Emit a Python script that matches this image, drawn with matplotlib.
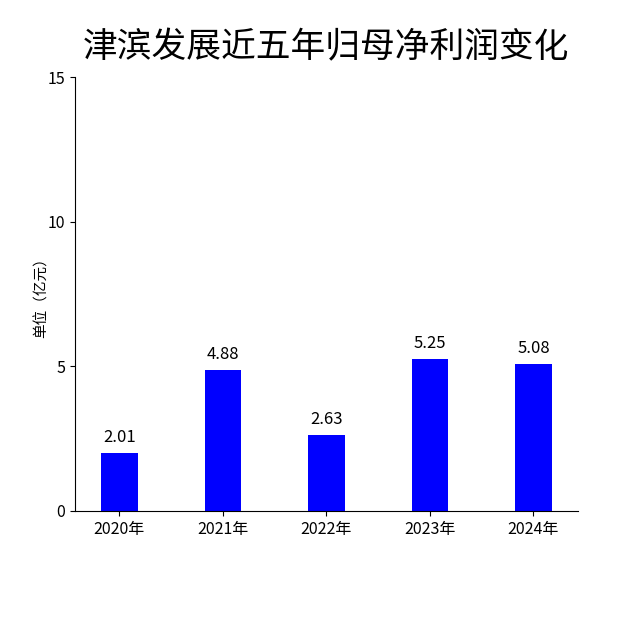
import matplotlib
matplotlib.use('Agg')
import matplotlib.pyplot as plt

plt.rcParams['font.family'] = ['Noto Sans CJK SC', 'DejaVu Sans']

# data
years = ['2020年', '2021年', '2022年', '2023年', '2024年']
profit = [2.01, 4.88, 2.63, 5.25, 5.08]

fig = plt.figure(figsize=(6.4, 6.4), dpi=100)
ax = fig.add_axes([0.117, 0.2016, 0.786, 0.678])

x = range(len(years))
bars = ax.bar(x, profit, width=0.35, color='#0000ff')
for b, v in zip(bars, profit):
    ax.text(b.get_x() + b.get_width() / 2, v + 0.25, f'{v:.2f}',
            ha='center', va='bottom', fontsize=12)

ax.set_xticks(list(x))
ax.set_xticklabels(years, fontsize=11.5)
ax.set_xlim(-0.43, 4.43)
ax.set_ylim(0, 15)
ax.set_yticks([0, 5, 10, 15])
ax.tick_params(axis='y', labelsize=11.5)
ax.set_ylabel('单位（亿元）', fontsize=10.5, labelpad=-1)

ax.spines['top'].set_visible(False)
ax.spines['right'].set_visible(False)

fig.text(0.51, 0.925, '津滨发展近五年归母净利润变化', ha='center', va='center', fontsize=25)

fig.savefig('out.png', dpi=100)
